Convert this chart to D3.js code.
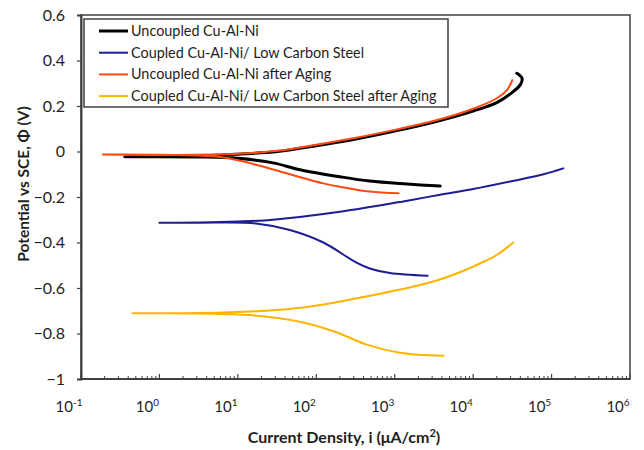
<!DOCTYPE html>
<html>
<head>
<meta charset="utf-8">
<script src="https://cdn.jsdelivr.net/npm/d3@7"></script>
<style>
  body { margin: 0; background: #fff; }
  text { font-family: Lato, "Open Sans", sans-serif; fill: #1e1e1e; }
</style>
</head>
<body>
<svg id="chart" width="644" height="450"></svg>
<script>
// series data: [current density (uA/cm2), potential (V)], cathodic end -> Ecorr -> anodic end
const uncoupled = [
  [3800, -0.152], [1450, -0.143], [480, -0.13], [200, -0.111], [62, -0.08], [28, -0.05],
  [10, -0.03], [3.2, -0.024], [0.36, -0.023],
  [3.2, -0.02], [10, -0.012], [32, 0.0], [100, 0.025], [320, 0.055], [1000, 0.09],
  [3200, 0.13], [10000, 0.178], [20000, 0.215], [31000, 0.258], [40000, 0.294],
  [42000, 0.322], [36000, 0.344]
];
const coupled = [
  [2630, -0.546], [870, -0.534], [480, -0.514], [330, -0.49], [123, -0.40], [46, -0.345],
  [17, -0.316], [3.2, -0.313], [1.0, -0.313],
  [3.2, -0.312], [10, -0.308], [28, -0.30], [200, -0.265], [1450, -0.216], [3800, -0.19],
  [10000, -0.165], [31600, -0.13], [79000, -0.10], [141000, -0.074]
];
const uncoupledAged = [
  [1120, -0.184], [480, -0.176], [200, -0.155], [123, -0.14], [46, -0.10], [17, -0.058],
  [6.3, -0.025], [1.6, -0.015], [0.19, -0.013],
  [1.6, -0.015], [10, -0.01], [32, 0.003], [100, 0.03], [320, 0.06], [1000, 0.095],
  [3200, 0.135], [10000, 0.188], [20000, 0.234], [27000, 0.27], [31600, 0.314]
];
const coupledAged = [
  [4200, -0.898], [2000, -0.893], [1170, -0.885], [450, -0.85], [166, -0.79], [62, -0.748],
  [14, -0.719], [3.2, -0.712], [0.45, -0.711],
  [3.2, -0.71], [23, -0.70], [63, -0.687], [166, -0.665], [400, -0.64], [1170, -0.607],
  [3200, -0.57], [6300, -0.535], [12600, -0.49], [20000, -0.455], [32400, -0.40]
];

const seriesNames = [
  "Uncoupled Cu-Al-Ni",
  "Coupled Cu-Al-Ni/ Low Carbon Steel",
  "Uncoupled Cu-Al-Ni after Aging",
  "Coupled Cu-Al-Ni/ Low Carbon Steel after Aging"
];
const seriesData = [uncoupled, coupled, uncoupledAged, coupledAged];
const seriesColors = ["#000000", "#1c1c94", "#ff4a12", "#ffb400"];
const seriesWidths = [3, 2, 2, 2];

const xExponents = [-1, 0, 1, 2, 3, 4, 5, 6];
const yTicks = [0.6, 0.4, 0.2, 0, -0.2, -0.4, -0.6, -0.8, -1];

const svg = d3.select("#chart");
const plotLeft = 81, plotRight = 630, plotTop = 15, plotBottom = 379;

const x = d3.scaleLog().domain([0.1, 1e6]).range([plotLeft, plotRight]);
const y = d3.scaleLinear().domain([-1, 0.6]).range([plotBottom, plotTop]);

// curves, drawn in order so the later series sit on top
const line = d3.line()
  .x(d => x(d[0]))
  .y(d => y(d[1]))
  .curve(d3.curveCatmullRom.alpha(0.5));

const gLines = svg.append("g");
seriesData.forEach((data, i) => {
  gLines.append("path")
    .attr("d", line(data))
    .attr("fill", "none")
    .attr("stroke", seriesColors[i])
    .attr("stroke-width", seriesWidths[i])
    .attr("stroke-linecap", "round")
    .attr("stroke-linejoin", "round");
});

// frame
svg.append("rect")
  .attr("x", plotLeft).attr("y", plotTop)
  .attr("width", plotRight - plotLeft).attr("height", plotBottom - plotTop)
  .attr("fill", "none").attr("stroke", "#404040").attr("stroke-width", 1.5);

// y axis: major ticks outside
const yAxis = d3.axisLeft(y).tickValues(yTicks).tickSize(4).tickFormat(d => d3.format("")(d));
const gy = svg.append("g").attr("transform", `translate(${plotLeft},0)`).call(yAxis);
gy.select(".domain").attr("stroke", "#404040").attr("stroke-width", 2);
gy.selectAll(".tick line").attr("stroke", "#404040").attr("stroke-width", 1.2);
gy.selectAll(".tick text")
  .attr("x", -16)
  .style("font-size", "16px")
  .style("font-family", "Lato, sans-serif")
  .attr("fill", "#1e1e1e");

// x axis: ticks inside, labels drawn separately with superscripts
const minorVals = [];
d3.range(-1, 6).forEach(e => {
  d3.range(2, 10).forEach(k => minorVals.push(k * Math.pow(10, e)));
});
const gx = svg.append("g").attr("transform", `translate(0,${plotBottom})`);
gx.append("line").attr("x1", plotLeft).attr("x2", plotRight).attr("stroke", "#404040").attr("stroke-width", 2);
gx.selectAll(".minor")
  .data(minorVals)
  .join("line")
  .attr("class", "minor")
  .attr("x1", d => x(d)).attr("x2", d => x(d))
  .attr("y1", 0).attr("y2", -3)
  .attr("stroke", "#404040").attr("stroke-width", 1);
gx.selectAll(".major")
  .data(xExponents)
  .join("line")
  .attr("class", "major")
  .attr("x1", d => x(Math.pow(10, d))).attr("x2", d => x(Math.pow(10, d)))
  .attr("y1", 0).attr("y2", -5)
  .attr("stroke", "#404040").attr("stroke-width", 1.2);

const xl = svg.append("g").selectAll("text")
  .data(xExponents)
  .join("text")
  .attr("x", d => x(Math.pow(10, d)) - 12)
  .attr("y", 412)
  .attr("text-anchor", "middle")
  .style("font-size", "15px");
xl.append("tspan").text("10");
xl.append("tspan").attr("dy", -6).style("font-size", "10px").text(d => d);

// axis titles
const xt = svg.append("text")
  .attr("x", 344).attr("y", 443)
  .attr("text-anchor", "middle")
  .style("font-size", "16px").style("font-weight", "bold");
xt.append("tspan").text("Current Density, i (\u03bcA/cm");
xt.append("tspan").attr("dy", -6).style("font-size", "11px").text("2");
xt.append("tspan").attr("dy", 6).text(")");

svg.append("text")
  .attr("transform", "translate(29,184) rotate(-90)")
  .attr("text-anchor", "middle")
  .style("font-size", "15.5px").style("font-weight", "bold")
  .text("Potential vs SCE, \u03a6 (V)");

// legend
const legend = svg.append("g");
legend.append("rect")
  .attr("x", 84).attr("y", 19).attr("width", 364).attr("height", 88)
  .attr("fill", "#fff").attr("stroke", "#404040").attr("stroke-width", 1.5);
const rows = legend.selectAll(".row")
  .data(seriesNames)
  .join("g")
  .attr("class", "row")
  .attr("transform", (d, i) => `translate(0,${31 + i * 21.7})`);
rows.append("line")
  .attr("x1", 99).attr("x2", 128)
  .attr("stroke", (d, i) => seriesColors[i])
  .attr("stroke-width", (d, i) => seriesWidths[i]);
rows.append("text")
  .attr("x", 131).attr("y", 5)
  .style("font-size", "14.4px")
  .text(d => d);
</script>
</body>
</html>
